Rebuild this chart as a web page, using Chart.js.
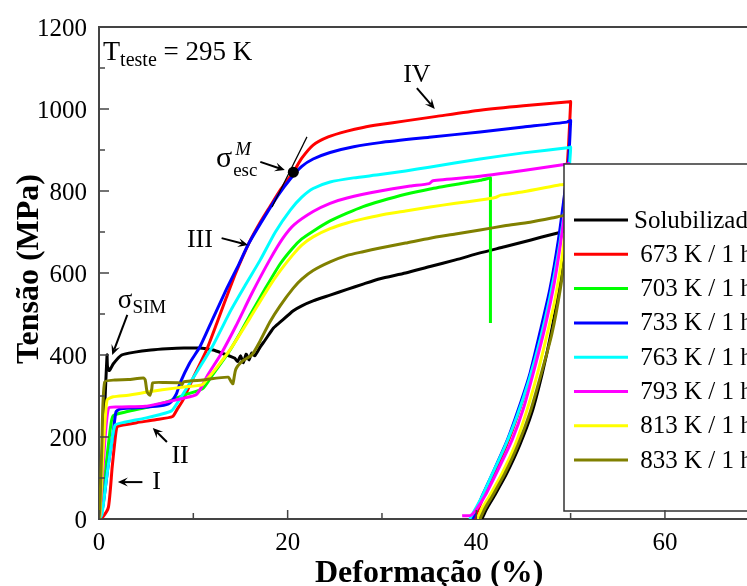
<!DOCTYPE html>
<html>
<head>
<meta charset="utf-8">
<script src="https://cdn.jsdelivr.net/npm/chart.js@4.4.1/dist/chart.umd.min.js"></script>
<style>
  html, body { margin: 0; padding: 0; background: #fff; overflow: hidden; }
  #wrap { width: 747px; height: 586px; }
</style>
</head>
<body>
<div id="wrap"><canvas id="tensaoChart"></canvas></div>
<script>
// curvas tensao x deformacao, pares [deformacao %, tensao MPa]
const seriesLabels = ['Solubilizada', ' 673 K / 1 h', ' 703 K / 1 h', ' 733 K / 1 h', ' 763 K / 1 h', ' 793 K / 1 h', ' 813 K / 1 h', ' 833 K / 1 h'];
const seriesColors = ['#000000', '#ff0000', '#00ff00', '#0000ff', '#00ffff', '#ff00ff', '#ffff00', '#808000'];

const solubilizada = [
  [0,0],[0.3,120],[0.6,270],[0.85,400],[0.9,372],[1.1,362],[1.5,378],[2.4,400],[3.8,407],[5.5,412],[7.2,415],[9,417],[10.7,417],
  [12.1,412],[13.2,403],[14.0,396],[14.4,392],[14.7,384],[15.0,398],[15.3,381],[15.6,402],[15.9,388],[16.2,405],[16.5,398],
  [17.1,420],[17.6,436],[18.5,466],[19.2,480],[20.6,508],[21.5,520],[22.7,532],[24.5,546],[26.3,560],[28,573],[29.8,586],
  [32.5,600],[35.1,616],[37.8,632],[40.4,649],[43,664],[45.7,680],[48,694],[49.5,702.5],[49.6,703],
  [49.58,690],[49.3,640],[48.7,550],[47.9,450],[47.0,356],[45.9,260],[44.6,180],[43.2,110],[42.0,60],[41.1,25],[40.6,0]
];
const k673 = [
  [0,0],[0.4,5],[1.0,29],[1.4,127],[1.7,193],[1.9,224],[2.3,228],[4,235],[6,242],[7.8,250],[8.3,268],[8.9,290],[10,345],
  [11.4,412],[12.5,478],[13.5,540],[14.5,600],[15.9,673],[17,720],[18.1,761],[19.3,805],[20.6,846],[21.5,880],[22.7,912],
  [24.3,932],[26.3,946],[28,955],[29.8,962],[32.5,971],[35.8,982],[40.4,997],[45,1008],[49.9,1017.8],[50.0,1018],
  [49.98,1005],[49.8,920],[49.5,820],[48.9,700],[48.0,575],[47.0,470],[45.9,365],[44.7,275],[43.5,197],[42.1,122],[40.9,62],[39.8,0]
];
const k703 = [
  [0,0],[0.2,10],[0.7,120],[1.2,220],[1.5,252],[3,262],[5,272],[7.5,288],[9,302],[11,318],[12,350],[13.7,405],[15,455],
  [16.2,505],[17.7,565],[19.2,622],[20.5,660],[21.5,683],[22.7,702],[24.5,727],[26.3,746],[28,762],[29.8,775],[32.5,792],
  [35.1,805],[37.8,816],[40.4,826],[41.4,831.5],[41.5,832],[41.5,820],[41.5,478]
];
const k733 = [
  [0,0],[0.4,29],[0.95,127],[1.5,210],[1.8,261],[2.2,268],[3.5,271],[4.9,273],[6.5,276],[7.5,283],[8.2,305],[8.6,332],
  [9.6,380],[10.7,420],[12,485],[13.5,560],[14.8,620],[15.9,673],[17.5,735],[19,790],[20.3,830],[21.5,860],[22.7,878],
  [24.5,894],[27,908],[29.8,918],[35,931],[40.4,944],[45,956],[49.6,968],[49.9,971],[50.0,972],
  [49.98,960],[49.8,880],[49.4,800],[48.7,680],[47.8,560],[46.8,460],[45.7,356],[44.5,270],[43.3,193],[41.9,120],[40.7,60],[39.6,0]
];
const k763 = [
  [0,0],[0.3,10],[0.8,100],[1.3,180],[1.7,229],[2.5,235],[4.9,246],[6.5,255],[7.7,264],[8.5,290],[10,345],[12,420],[14,510],
  [15.5,570],[17.1,632],[18.7,700],[20.3,754],[21.5,785],[22.7,806],[24.5,822],[27,832],[29.8,840],[32.5,849],[35,858],
  [40.4,878],[45,893],[49.9,906],[50.0,907],
  [49.98,895],[49.8,840],[49.4,760],[48.7,650],[47.8,540],[46.8,440],[45.6,340],[44.3,250],[43.0,175],[41.6,105],[40.4,45],[39.3,0]
];
const k793 = [
  [0,0],[0.1,10],[0.5,150],[1.0,270],[2,273],[4.9,275],[6.5,282],[8.1,290],[10.2,302],[10.7,315],[11.5,350],[13,405],
  [14.5,470],[16.2,550],[18.1,632],[19.5,685],[20.7,718],[22.7,750],[24.5,770],[26.3,783],[29.8,800],[33,812],[35.0,818],
  [35.4,825],[40.4,836],[45,850],[49.7,866],[49.8,867],
  [49.78,855],[49.6,800],[49.1,700],[48.3,580],[47.3,470],[46.2,370],[45.0,270],[43.8,193],[42.3,120],[41.0,60],[39.9,20],[39.4,9],[38.5,8]
];
const k813 = [
  [0,0],[0.1,10],[0.4,150],[0.85,290],[1.5,298],[3.1,302],[5,309],[6.7,315],[9,322],[10.9,327],[11.5,342],[12.5,370],
  [14.1,420],[16,490],[18,565],[19.2,605],[20.5,643],[21.5,668],[22.7,688],[24.5,708],[26.3,722],[28,732],[29.8,741],
  [32.5,751],[35.1,761],[37.8,770],[40.4,778],[42,784],[42.6,790],[45,798],[48.9,815],[49.7,817.5],[49.8,818],
  [49.78,805],[49.6,740],[49.1,640],[48.3,530],[47.3,430],[46.5,356],[45.3,260],[44.1,180],[42.7,110],[41.5,60],[40.6,25],[40.1,0]
];
const k833 = [
  [0,0],[0.1,30],[0.3,180],[0.6,334],[1.7,339],[3.1,340],[4.7,344],[4.9,339],[5.1,310],[5.4,302],[5.6,318],[5.7,332],
  [7,333],[8.6,332],[8.8,328],[9,335],[11,339],[13.7,346],[14.0,335],[14.2,330],[14.5,365],[15.2,385],[16.2,400],[17.1,435],
  [18.1,480],[19.2,520],[20.6,563],[21.5,585],[22.7,606],[24.5,627],[26.3,643],[28,652],[29.8,661],[32.5,673],[35.1,685],
  [37.8,695],[40.4,705],[43,715],[45.7,724],[48,734],[49.2,740],[49.7,741.5],[49.8,742],
  [49.78,730],[49.5,660],[48.9,560],[48.0,450],[46.9,356],[45.7,260],[44.4,180],[43.0,110],[41.8,60],[40.9,25],[40.4,0]
];
const seriesData = [solubilizada, k673, k703, k733, k763, k793, k813, k833];

// anotacoes (coordenadas de dados)
const romanLabels = [['IV', 33.7, 1083], ['III', 10.7, 680], ['II', 8.6, 154], ['I', 6.1, 90]];
const arrowList = [
  [33.7, 1051, 35.6, 1000],
  [13.0, 685, 15.8, 668],
  [7.2, 188, 5.7, 222],
  [4.6, 90, 2.0, 90],
  [3.0, 498, 1.4, 400],
  [17.1, 871, 19.7, 851]
];
const sigmaEscPoint = [20.6, 846];
const tangentLine = [[18.35, 761], [22.05, 932]];

const serif = "'Liberation Serif', 'Times New Roman', serif";

function drawArrow(ctx, x1, y1, x2, y2) {
  const a = Math.atan2(y2 - y1, x2 - x1);
  const L = 10, W = 4.5;
  ctx.beginPath();
  ctx.moveTo(x1, y1);
  ctx.lineTo(x2 - 6 * Math.cos(a), y2 - 6 * Math.sin(a));
  ctx.stroke();
  ctx.beginPath();
  ctx.moveTo(x2, y2);
  ctx.lineTo(x2 - L * Math.cos(a) + W * Math.sin(a), y2 - L * Math.sin(a) - W * Math.cos(a));
  ctx.lineTo(x2 - 0.6 * L * Math.cos(a), y2 - 0.6 * L * Math.sin(a));
  ctx.lineTo(x2 - L * Math.cos(a) - W * Math.sin(a), y2 - L * Math.sin(a) + W * Math.cos(a));
  ctx.closePath();
  ctx.fill();
}

const decorPlugin = {
  id: 'decor',
  afterDatasetsDraw(chart) {
    const { ctx, chartArea: area, scales: { x, y } } = chart;
    const px = v => x.getPixelForValue(v);
    const py = v => y.getPixelForValue(v);
    ctx.save();
    ctx.fillStyle = '#000';
    ctx.strokeStyle = '#000';

    // reta tangente e ponto sigma esc
    ctx.lineWidth = 1.2;
    ctx.beginPath();
    ctx.moveTo(px(tangentLine[0][0]), py(tangentLine[0][1]));
    ctx.lineTo(px(tangentLine[1][0]), py(tangentLine[1][1]));
    ctx.stroke();
    ctx.beginPath();
    ctx.arc(px(sigmaEscPoint[0]), py(sigmaEscPoint[1]), 5.5, 0, Math.PI * 2);
    ctx.fill();

    ctx.lineWidth = 2;
    arrowList.forEach(a => drawArrow(ctx, px(a[0]), py(a[1]), px(a[2]), py(a[3])));

    ctx.textAlign = 'center';
    ctx.textBaseline = 'middle';
    ctx.font = '26px ' + serif;
    romanLabels.forEach(r => ctx.fillText(r[0], px(r[1]), py(r[2])));

    ctx.textAlign = 'left';
    ctx.textBaseline = 'alphabetic';
    // sigma SIM
    let sx = px(2.0), sy = py(515);
    ctx.font = '27px ' + serif;
    ctx.fillText('σ', sx, sy);
    let w = ctx.measureText('σ').width;
    ctx.font = '19px ' + serif;
    ctx.fillText('SIM', sx + w, sy + 5);
    // sigma esc M
    sx = px(12.4); sy = py(858);
    ctx.font = '30px ' + serif;
    ctx.fillText('σ', sx, sy);
    w = ctx.measureText('σ').width;
    ctx.font = 'italic 19px ' + serif;
    ctx.fillText('M', sx + w + 3, sy - 12);
    ctx.font = '19px ' + serif;
    ctx.fillText('esc', sx + w + 1, sy + 9);

    // T teste
    sx = area.left + 4; sy = area.top + 33;
    ctx.font = '28px ' + serif;
    ctx.fillText('T', sx, sy);
    sx += ctx.measureText('T').width;
    ctx.font = '20px ' + serif;
    ctx.fillText('teste', sx, sy + 6);
    sx += ctx.measureText('teste').width;
    ctx.font = '27px ' + serif;
    ctx.fillText(' = 295 K', sx, sy);

    // legenda com fundo branco
    const bx = area.left + 465, by = area.top + 137, bb = area.bottom - 8;
    ctx.fillStyle = '#fff';
    ctx.fillRect(bx, by, chart.width - bx + 20, bb - by);
    ctx.strokeStyle = '#333';
    ctx.lineWidth = 1.5;
    ctx.strokeRect(bx, by, chart.width - bx + 20, bb - by);
    ctx.font = '25px ' + serif;
    ctx.textBaseline = 'middle';
    chart.data.datasets.forEach((ds, i) => {
      const ly = by + 56 + i * 34.3;
      ctx.strokeStyle = ds.borderColor;
      ctx.lineWidth = 3;
      ctx.beginPath();
      ctx.moveTo(bx + 10, ly);
      ctx.lineTo(bx + 64, ly);
      ctx.stroke();
      ctx.fillStyle = '#000';
      ctx.fillText(ds.label, bx + 70, ly + 1);
    });
    ctx.restore();
  },
  afterDraw(chart) {
    const { ctx, chartArea: area, scales: { x, y } } = chart;
    ctx.save();
    ctx.strokeStyle = '#444';
    ctx.fillStyle = '#000';
    ctx.lineWidth = 2;
    // moldura superior
    ctx.beginPath();
    ctx.moveTo(area.left, area.top);
    ctx.lineTo(chart.width, area.top);
    ctx.stroke();

    ctx.lineWidth = 1.5;
    ctx.font = '25px ' + serif;
    // eixo y
    ctx.textAlign = 'right';
    ctx.textBaseline = 'middle';
    y.ticks.forEach(t => {
      const p = y.getPixelForValue(t.value);
      const major = t.value % 200 === 0;
      ctx.beginPath();
      ctx.moveTo(area.left, p);
      ctx.lineTo(area.left + (major ? 10 : 6), p);
      ctx.stroke();
      if (major) ctx.fillText(String(t.value), area.left - 12, p + 2);
    });
    // eixo x
    ctx.textAlign = 'center';
    x.ticks.forEach(t => {
      if (t.value % 10 !== 0) return;
      const p = x.getPixelForValue(t.value);
      const major = t.value % 20 === 0;
      ctx.beginPath();
      ctx.moveTo(p, area.bottom);
      ctx.lineTo(p, area.bottom - (major ? 9 : 6));
      ctx.stroke();
      if (major) ctx.fillText(String(t.value), p, area.bottom + 24);
    });

    // titulos
    ctx.font = 'bold 32px ' + serif;
    ctx.textBaseline = 'alphabetic';
    ctx.fillText('Deformação (%)', x.getPixelForValue(35), area.bottom + 63);
    ctx.translate(38, (area.top + area.bottom) / 2 - 4);
    ctx.rotate(-Math.PI / 2);
    ctx.fillText('Tensão (MPa)', 0, 0);
    ctx.restore();
  }
};

new Chart(document.getElementById('tensaoChart').getContext('2d'), {
  type: 'scatter',
  data: {
    datasets: seriesData.map((pts, i) => ({
      label: seriesLabels[i],
      data: pts.map(p => ({ x: p[0], y: p[1] })),
      showLine: true,
      borderColor: seriesColors[i],
      backgroundColor: seriesColors[i],
      borderWidth: 3,
      pointRadius: 0,
      tension: 0.2,
      order: seriesData.length - i
    }))
  },
  options: {
    responsive: true,
    maintainAspectRatio: false,
    animation: false,
    layout: { padding: { left: 99, top: 27, right: 0, bottom: 67 } },
    plugins: {
      legend: { display: false },
      tooltip: { enabled: false }
    },
    scales: {
      x: {
        type: 'linear',
        min: 0,
        max: 68.7,
        ticks: { display: false, stepSize: 10 },
        grid: { display: false, drawTicks: false },
        border: { display: true, color: '#444', width: 2 }
      },
      y: {
        min: 0,
        max: 1200,
        ticks: { display: false, stepSize: 100 },
        grid: { display: false, drawTicks: false },
        border: { display: true, color: '#444', width: 2 }
      }
    }
  },
  plugins: [decorPlugin]
});
</script>
</body>
</html>
